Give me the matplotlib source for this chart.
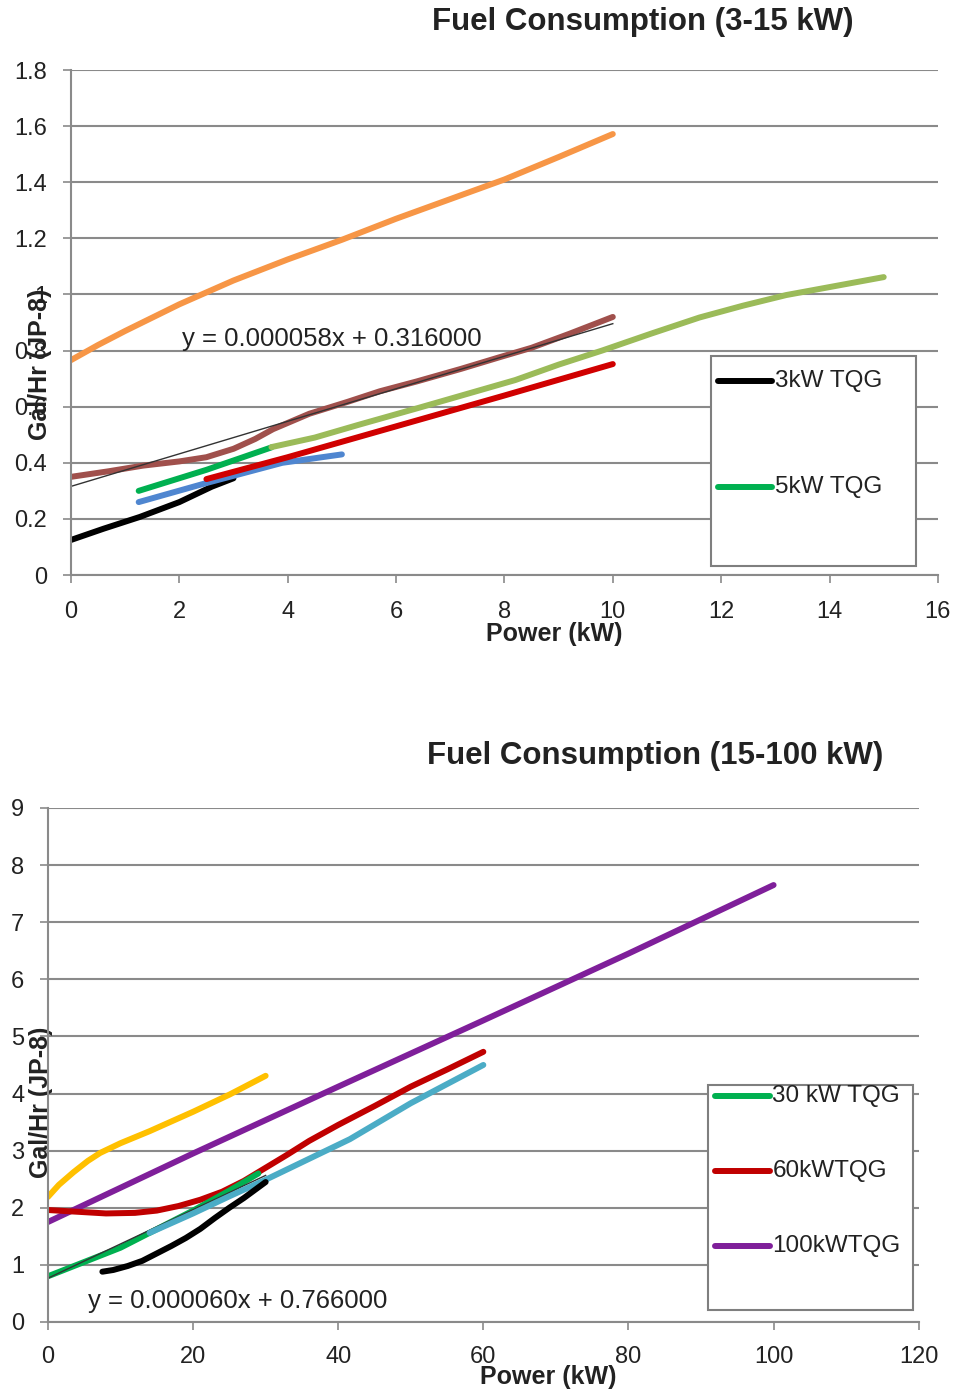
import matplotlib
matplotlib.use("Agg")
import matplotlib.pyplot as plt
from matplotlib.patches import Rectangle

plt.rcParams['font.family'] = ['Liberation Sans', 'DejaVu Sans']

# ---- top chart data (3-15 kW) ----
top_black_x = [0, 0.6, 1.27, 2.0, 2.6, 3.0]
top_black_y = [0.125, 0.165, 0.207, 0.26, 0.315, 0.345]
top_green_x = [1.25, 2.5, 3.7]
top_green_y = [0.30, 0.375, 0.455]
top_blue_x = [1.25, 2.5, 3.9, 5.0]
top_blue_y = [0.26, 0.328, 0.40, 0.43]
top_red_x = [2.5, 4, 6, 8, 10]
top_red_y = [0.342, 0.42, 0.53, 0.64, 0.752]
top_lgreen_x = [3.7, 4.5, 5.3, 6.4, 7.3, 8.2, 9.0, 9.8, 10.7, 11.6, 12.4, 13.2, 14.1, 15]
top_lgreen_y = [0.456, 0.49, 0.535, 0.595, 0.645, 0.695, 0.75, 0.80, 0.86, 0.918,
                0.96, 0.998, 1.03, 1.062]
top_brown_x = [0, 0.7, 1.33, 2.0, 2.5, 3.0, 3.4, 3.73, 4.4, 5.1, 5.7, 6.38, 7.2,
               7.92, 8.5, 9.2, 10]
top_brown_y = [0.35, 0.37, 0.39, 0.405, 0.42, 0.45, 0.485, 0.52, 0.575, 0.617,
               0.655, 0.69, 0.735, 0.777, 0.81, 0.86, 0.92]
top_orange_x = [0, 0.5, 1, 2, 3, 4, 5, 6, 7, 8, 9, 10]
top_orange_y = [0.766, 0.82, 0.87, 0.965, 1.05, 1.125, 1.195, 1.27, 1.34, 1.41,
                1.49, 1.572]
top_trend_x = [0, 10]
top_trend_y = [0.316, 0.896]
top_xticks = [0, 2, 4, 6, 8, 10, 12, 14, 16]
top_yticks = [0, 0.2, 0.4, 0.6, 0.8, 1.0, 1.2, 1.4, 1.6, 1.8]

# ---- bottom chart data (15-100 kW) ----
bot_yellow_x = [0, 1.5, 3.5, 5.5, 7.2, 10, 14, 20, 25, 30]
bot_yellow_y = [2.19, 2.4, 2.62, 2.82, 2.96, 3.13, 3.34, 3.68, 3.98, 4.31]
bot_purple_x = [0, 20, 40, 60, 80, 100]
bot_purple_y = [1.75, 2.95, 4.12, 5.28, 6.45, 7.65]
bot_red_x = [0, 4, 8, 12, 15, 18, 21, 24, 27, 30, 33, 36, 40, 45, 50, 55, 60]
bot_red_y = [1.96, 1.93, 1.9, 1.91, 1.95, 2.03, 2.14, 2.28, 2.47, 2.7, 2.93,
             3.17, 3.45, 3.78, 4.12, 4.42, 4.73]
bot_blue_x = [14, 20, 25, 30, 41.6, 50, 60]
bot_blue_y = [1.56, 1.9, 2.2, 2.49, 3.2, 3.83, 4.5]
bot_green_x = [0, 5, 10, 14, 20, 25, 29]
bot_green_y = [0.8, 1.05, 1.3, 1.56, 1.95, 2.3, 2.6]
bot_black_x = [7.5, 9, 11, 13, 15, 17, 19, 21, 23, 25, 27, 30]
bot_black_y = [0.88, 0.91, 0.98, 1.07, 1.2, 1.33, 1.47, 1.63, 1.82, 2.0, 2.17, 2.45]
bot_trend_x = [0, 30]
bot_trend_y = [0.766, 2.566]
bot_xticks = [0, 20, 40, 60, 80, 100, 120]
bot_yticks = list(range(0, 10))

GRID = '#8a8a8a'
TXT = '#222222'
LW = 4.3


def style_axes(ax, xticks, yticks, xlim, ylim, xpad):
    ax.set_xlim(*xlim)
    ax.set_ylim(*ylim)
    ax.set_xticks(xticks)
    ax.set_yticks(yticks)
    ax.set_xticklabels([f'{t:g}' for t in xticks])
    ax.set_yticklabels([f'{t:g}' for t in yticks])
    ax.grid(axis='y', color=GRID, lw=1.5)
    ax.set_axisbelow(True)
    for s in ['top', 'right']:
        ax.spines[s].set_visible(False)
    for s in ['left', 'bottom']:
        ax.spines[s].set_color(GRID)
        ax.spines[s].set_linewidth(1.5)
    ax.tick_params(direction='out', length=6, width=1.2, color=GRID,
                   labelsize=17, labelcolor=TXT)
    ax.tick_params(axis='x', pad=xpad)
    ax.tick_params(axis='y', pad=11)


def draw_legend(ax, box, entries):
    # box = (x0, y0, w, h) in axes coords; entries = (color, label, y)
    x0, y0, w, h = box
    ax.add_patch(Rectangle((x0, y0), w, h, transform=ax.transAxes,
                           facecolor='white', edgecolor='#7f7f7f', lw=1.5,
                           zorder=5, clip_on=False))
    for color, label, y in entries:
        ax.plot([x0 + 0.008, x0 + 0.071], [y, y], transform=ax.transAxes,
                color=color, lw=LW, solid_capstyle='round', zorder=6, clip_on=False)
        ax.text(x0 + 0.074, y, label, transform=ax.transAxes, fontsize=17.5,
                va='center', ha='left', color=TXT, zorder=6)


fig = plt.figure(figsize=(9.59, 13.93), dpi=100)
kw = dict(lw=LW, solid_capstyle='round')

# ---------------- top chart ----------------
ax1 = fig.add_axes([0.074, 0.5872, 0.904, 0.3625])
style_axes(ax1, top_xticks, top_yticks, (0, 16), (0, 1.8), xpad=13)
ax1.plot(top_brown_x, top_brown_y, color='#A0504C', **kw)
ax1.plot(top_trend_x, top_trend_y, color='#333333', lw=1.0)
ax1.plot(top_orange_x, top_orange_y, color='#F79646', **kw)
ax1.plot(top_black_x, top_black_y, color='black', **kw)
ax1.plot(top_blue_x, top_blue_y, color='#4F86D0', **kw)
ax1.plot(top_green_x, top_green_y, color='#00B050', **kw)
ax1.plot(top_red_x, top_red_y, color='#D00000', **kw)
ax1.plot(top_lgreen_x, top_lgreen_y, color='#9BBB59', **kw)
ax1.text(2.05, 0.84, 'y = 0.000058x + 0.316000', fontsize=18.5,
         va='center', ha='left', color=TXT)
fig.text(0.670, 0.984, 'Fuel Consumption (3-15 kW)', fontsize=22.5,
         fontweight='bold', ha='center', va='center', color=TXT)
ax1.set_xlabel('Power (kW)', fontsize=18, fontweight='bold', color=TXT)
ax1.xaxis.set_label_coords(0.558, -0.093)
ax1.set_ylabel('Gal/Hr (JP-8)', fontsize=18, fontweight='bold', color=TXT)
ax1.yaxis.set_label_coords(-0.022, 0.418)
draw_legend(ax1, (0.738, 0.0178, 0.2365, 0.4158),
            [('black', '3kW TQG', 0.384), ('#00B050', '5kW TQG', 0.174)])

# ---------------- bottom chart ----------------
ax2 = fig.add_axes([0.050, 0.051, 0.908, 0.369])
style_axes(ax2, bot_xticks, bot_yticks, (0, 120), (0, 9), xpad=11)
ax2.plot(bot_yellow_x, bot_yellow_y, color='#FFC000', **kw)
ax2.plot(bot_purple_x, bot_purple_y, color='#7F1F9A', **kw)
ax2.plot(bot_red_x, bot_red_y, color='#C00000', **kw)
ax2.plot(bot_green_x, bot_green_y, color='#00B050', **kw)
ax2.plot(bot_trend_x, bot_trend_y, color='#333333', lw=1.0)
ax2.plot(bot_blue_x, bot_blue_y, color='#4BACC6', **kw)
ax2.plot(bot_black_x, bot_black_y, color='black', **kw)
ax2.text(5.5, 0.37, 'y = 0.000060x + 0.766000', fontsize=18.5,
         va='center', ha='left', color=TXT)
fig.text(0.683, 0.4573, 'Fuel Consumption (15-100 kW)', fontsize=22.5,
         fontweight='bold', ha='center', va='center', color=TXT)
ax2.set_xlabel('Power (kW)', fontsize=18, fontweight='bold', color=TXT)
ax2.xaxis.set_label_coords(0.575, -0.083)
ax2.set_ylabel('Gal/Hr (JP-8)', fontsize=18, fontweight='bold', color=TXT)
ax2.yaxis.set_label_coords(0.006, 0.428)
draw_legend(ax2, (0.758, 0.0233, 0.235, 0.438),
            [('#00B050', '30 kW TQG', 0.4397), ('#C00000', '60kWTQG', 0.2938),
             ('#7F1F9A', '100kWTQG', 0.1479)])

fig.savefig('out.png', dpi=100)
